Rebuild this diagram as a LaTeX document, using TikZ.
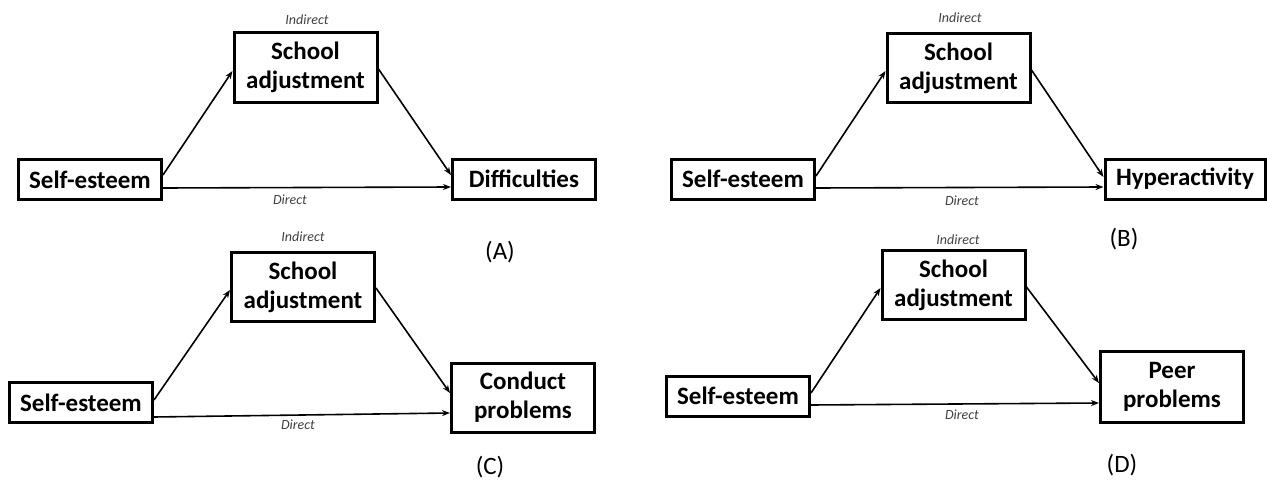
\documentclass[tikz,border=0pt]{standalone}
\usepackage{fontspec}
\setmainfont{Carlito}
\usetikzlibrary{arrows.meta}

\begin{document}
\begin{tikzpicture}[
    x=1pt, y=-1pt,
    construct/.style={draw, line width=3pt, inner sep=0pt, minimum width=143pt, minimum height=40pt, align=center, font=\bfseries\fontsize{25}{29}\selectfont},
    mediator/.style={construct, minimum height=69pt},
    link/.style={-{Stealth[length=8pt, width=6pt]}, line width=1.6pt},
    effect/.style={font=\itshape\fontsize{14}{16}\selectfont, text=black!75},
    panel/.style={font=\fontsize{25}{28}\selectfont}
]
\useasboundingbox (0,0) rectangle (1267,487);

% Panel A
\node[construct] (seA) at (90,179.5) {Self-esteem};
\node[mediator] (saA) at (305.5,67.5) {School\\adjustment};
\node[construct] (outA) at (524,179) {Difficulties};
\draw[link] ([yshift=4.5pt]seA.east) -- ([yshift=-3.5pt]saA.west);
\draw[link] ([yshift=-1.5pt]saA.east) -- ([yshift=4pt]outA.west);
\draw[link] ([yshift=-8.5pt]seA.east) -- ([yshift=-8pt]outA.west);
\node[effect] (indA) at (307,20) {Indirect};
\node[effect] (dirA) at (290,200) {Direct};
\node[panel] (labA) at (500,252) {(A)};

% Panel B
\node[construct] (seB) at (743,179) {Self-esteem};
\node[mediator] (saB) at (958.5,68) {School\\adjustment};
\node[construct, minimum width=160pt] (outB) at (1185,179) {Hyperactivity};
\draw[link] ([yshift=3pt]seB.east) -- ([yshift=-3pt]saB.west);
\draw[link] ([yshift=-2pt]saB.east) -- ([yshift=2pt]outB.west);
\draw[link] ([yshift=-9pt]seB.east) -- ([yshift=-8pt]outB.west);
\node[effect] (indB) at (960,18) {Indirect};
\node[effect] (dirB) at (962,201) {Direct};
\node[panel] (labB) at (1124,239) {(B)};

% Panel C
\node[construct] (seC) at (81,402.5) {Self-esteem};
\node[mediator] (saC) at (303,287) {School\\adjustment};
\node[mediator] (outC) at (523,397.5) {Conduct\\problems};
\draw[link] ([yshift=2.5pt]seC.east) -- ([yshift=-3pt]saC.west);
\draw[link] ([yshift=-1pt]saC.east) -- ([yshift=4.5pt]outC.west);
\draw[link] ([yshift=-14.5pt]seC.east) -- ([yshift=-15.5pt]outC.west);
\node[effect] (indC) at (303,237) {Indirect};
\node[effect] (dirC) at (298,425) {Direct};
\node[panel] (labC) at (490,467) {(C)};

% Panel D
\node[construct] (seD) at (738,396) {Self-esteem};
\node[mediator] (saD) at (953.5,285) {School\\adjustment};
\node[mediator, minimum height=71pt] (outD) at (1172,386.5) {Peer\\problems};
\draw[link] ([yshift=3pt]seD.east) -- ([yshift=-3pt]saD.west);
\draw[link] ([yshift=-2pt]saD.east) -- ([yshift=3.5pt]outD.west);
\draw[link] ([yshift=-9pt]seD.east) -- ([yshift=-16.5pt]outD.west);
\node[effect] (indD) at (958,240) {Indirect};
\node[effect] (dirD) at (962,415) {Direct};
\node[panel] (labD) at (1122,465) {(D)};

\end{tikzpicture}
\end{document}
